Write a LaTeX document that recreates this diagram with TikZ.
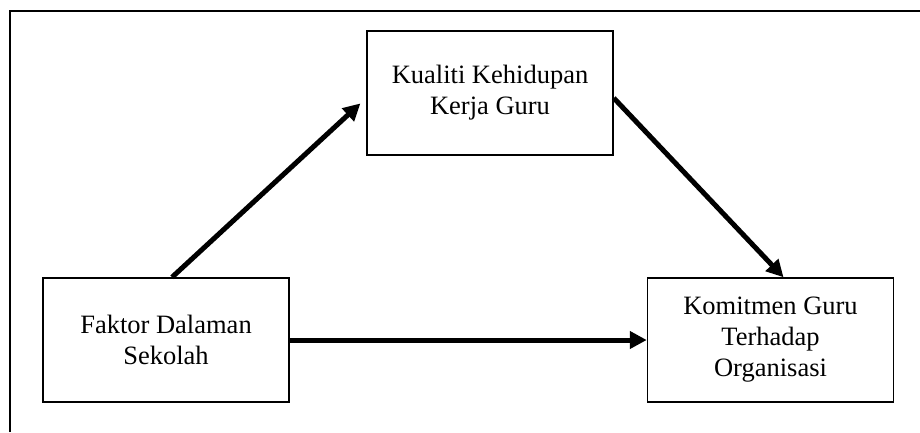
\documentclass[tikz,border=0pt]{standalone}
\usepackage{fontspec}
\setmainfont{Liberation Serif}
\usepackage{tikz}
\usetikzlibrary{arrows.meta,positioning}

\begin{document}
\begin{tikzpicture}[
    x=1pt, y=-1pt,
    node distance=357pt,
    box/.style={draw, line width=1.5pt, minimum width=246pt, minimum height=124pt,
        align=center, font=\fontsize{26.5}{31}\selectfont},
    arrow/.style={line width=5pt,-{Triangle[length=17pt,width=17pt]}}
]
\useasboundingbox (0,0) rectangle (920,432);

% outer frame
\draw [line width=2pt] (9.5,432) |- (920,10.5);

\node (faktor) [box] at (166,340) {Faktor Dalaman\\Sekolah};
\node (komitmen) [box, right=of faktor] {Komitmen Guru\\Terhadap\\Organisasi};
\node (kualiti) [box] at (490,93) {Kualiti Kehidupan\\Kerja Guru};

\draw [arrow, shorten >=8pt] ([xshift=6pt]faktor.north) -- ([yshift=-5pt]kualiti.west);
\draw [arrow] ([yshift=-5pt]kualiti.east) -- ([xshift=13pt]komitmen.north);
\draw [arrow] (faktor) -- (komitmen);

\end{tikzpicture}
\end{document}
